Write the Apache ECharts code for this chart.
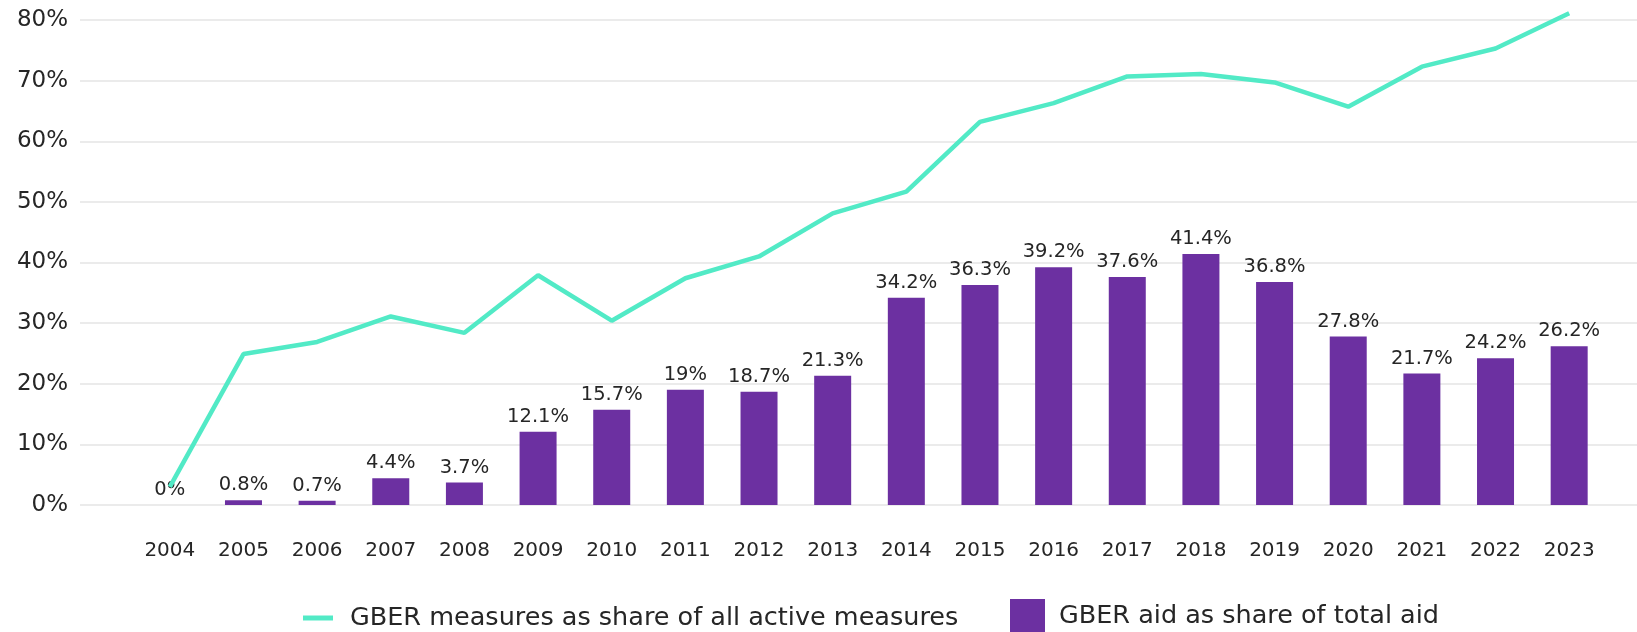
<!DOCTYPE html>
<html>
<head>
<meta charset="utf-8">
<script src="https://cdn.jsdelivr.net/npm/echarts@6/dist/echarts.min.js"></script>
<style>
html,body{margin:0;padding:0;background:#fff;}
#chart{width:1637px;height:632px;}
</style>
</head>
<body>
<div id="chart"></div>
<script>
const years = ['2004','2005','2006','2007','2008','2009','2010','2011','2012','2013','2014','2015','2016','2017','2018','2019','2020','2021','2022','2023'];
const measuresShare = [3.0, 24.9, 26.9, 31.1, 28.4, 37.9, 30.4, 37.4, 41.0, 48.1, 51.7, 63.2, 66.3, 70.7, 71.1, 69.7, 65.7, 72.3, 75.3, 81.1];
const aidShare = [0, 0.8, 0.7, 4.4, 3.7, 12.1, 15.7, 19, 18.7, 21.3, 34.2, 36.3, 39.2, 37.6, 41.4, 36.8, 27.8, 21.7, 24.2, 26.2];
const lineName = 'GBER measures as share of all active measures';
const barName = 'GBER aid as share of total aid';

const FONT = 'DejaVu Sans';
const TXT = '#262626';
const chart = echarts.init(document.getElementById('chart'), null, {renderer: 'canvas'});
chart.setOption({
  animation: false,
  backgroundColor: '#ffffff',
  textStyle: {fontFamily: FONT},
  grid: [
    {left: 80, right: 0, top: 20, bottom: 127, containLabel: false},
    {left: 133, right: 31, top: 20, bottom: 127, containLabel: false}
  ],
  xAxis: [
    {gridIndex: 0, type: 'value', show: false, min: 0, max: 1},
    {gridIndex: 1, type: 'category', data: years, boundaryGap: true,
     axisLine: {show: false}, axisTick: {show: false},
     axisLabel: {fontSize: 20, color: TXT, fontFamily: FONT, margin: 36}}
  ],
  yAxis: [
    {gridIndex: 0, type: 'value', min: 0, max: 80, interval: 10,
     axisLine: {show: false}, axisTick: {show: false},
     axisLabel: {fontSize: 23, color: TXT, fontFamily: FONT, margin: 12, formatter: '{value}%'},
     splitLine: {lineStyle: {color: '#ebebeb', width: 2}}},
    {gridIndex: 1, type: 'value', min: 0, max: 80, interval: 10, show: false,
     splitLine: {show: false}}
  ],
  legend: [
    {data: [{name: lineName, icon: 'rect'}], left: 303, top: 605, padding: 0, itemWidth: 30, itemHeight: 5,
     textStyle: {fontSize: 25.5, color: TXT, fontFamily: FONT, padding: [0, 0, 0, 12]}},
    {data: [{name: barName, icon: 'rect'}], left: 1010, top: 599, padding: 0, itemWidth: 35, itemHeight: 34,
     textStyle: {fontSize: 25.5, color: TXT, fontFamily: FONT, padding: [4, 0, 0, 9]}}
  ],
  series: [
    {name: barName, type: 'bar', xAxisIndex: 1, yAxisIndex: 1, data: aidShare, barWidth: 37,
     itemStyle: {color: '#6c30a1'},
     label: {show: true, position: 'top', distance: 5, fontSize: 19.5, color: TXT, fontFamily: FONT,
             formatter: p => p.value + '%'}},
    {name: lineName, type: 'line', xAxisIndex: 1, yAxisIndex: 1, data: measuresShare, z: 5, clip: false,
     symbol: 'none', lineStyle: {color: '#52eac6', width: 4.5}, itemStyle: {color: '#52eac6'}}
  ]
});
</script>
</body>
</html>
